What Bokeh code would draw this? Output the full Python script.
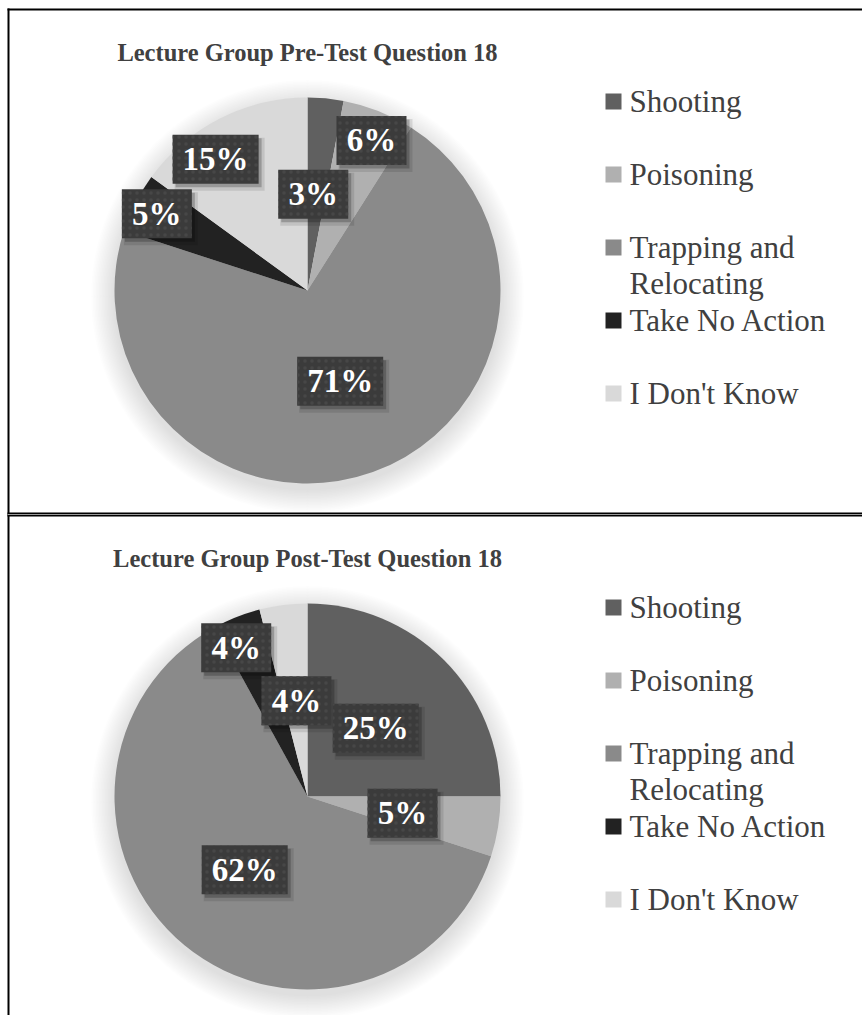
import math

from bokeh.core.properties import value
from bokeh.embed import file_html
from bokeh.models import ColumnDataSource, Range1d
from bokeh.plotting import figure
from bokeh.resources import INLINE

# Survey answers, percent of respondents
categories = ["Shooting", "Poisoning", "Trapping and Relocating", "Take No Action", "I Don't Know"]
pre_test = [3, 6, 71, 5, 15]
post_test = [25, 5, 62, 4, 4]
titles = ["Lecture Group Pre-Test Question 18", "Lecture Group Post-Test Question 18"]
slice_colors = ["#606060", "#b0b0b0", "#8a8a8a", "#222222", "#d9d9d9"]

# Page geometry (pixels, y measured downward from the top edge)
W, H = 862, 1015
PANEL_STEP = 506
CX, CY, R = 307, 290, 193
TITLE_Y = 52
LEGEND_X, LEGEND_Y0, LEGEND_STEP, LINE_STEP = 613, 101, 73, 36

# Data label placement per slice: (fraction of radius, angular nudge in degrees)
label_layout = [
    [(0.50, -2.0), (0.845, 1.5), (0.50, 0.0), (0.876, 0.0), (0.83, -8.0)],
    [(0.50, 0.0), (0.50, 1.0), (0.50, 1.0), (0.855, -4.0), (0.50, 0.6)],
]

SERIF = value("Liberation Serif")


def Y(y):
    return H - y


def wrap(text, limit=15):
    words, lines, cur = text.split(), [], ""
    for w in words:
        trial = (cur + " " + w).strip()
        if len(trial) > limit and cur:
            lines.append(cur)
            cur = w
        else:
            cur = trial
    lines.append(cur)
    return lines


p = figure(
    width=W, height=H,
    x_range=Range1d(0, W), y_range=Range1d(0, H),
    x_axis_location=None, y_axis_location=None,
    toolbar_location=None, output_backend="svg", min_border=0,
)
p.grid.visible = False
p.outline_line_color = None
p.background_fill_color = "white"
p.border_fill_color = "white"

for k, vals in enumerate([pre_test, post_test]):
    off = k * PANEL_STEP
    cx, cy = CX, CY + off
    total = float(sum(vals))

    # soft drop shadow behind the pie
    for i in range(16):
        p.circle(x=cx, y=Y(cy + 6), radius=R + 1 + i * 1.5,
                 fill_color="black", fill_alpha=0.009, line_color=None)

    # slices, clockwise from 12 o'clock
    starts, ends, mids = [], [], []
    c = 0.0
    for v in vals:
        c0, c1 = c / total, (c + v) / total
        starts.append(math.pi / 2 - 2 * math.pi * c1)
        ends.append(math.pi / 2 - 2 * math.pi * c0)
        mids.append((c0 + c1) / 2)
        c += v
    src = ColumnDataSource(dict(x=[cx] * len(vals), y=[Y(cy)] * len(vals),
                                start=starts, end=ends, color=slice_colors))
    p.wedge(x="x", y="y", radius=R, start_angle="start", end_angle="end",
            direction="anticlock", fill_color="color", line_color=None, source=src)

    # data labels in dark boxes
    lx, ly, lw, txt = [], [], [], []
    for v, m, (rf, nudge) in zip(vals, mids, label_layout[k]):
        th = 2 * math.pi * m + math.radians(nudge)
        lx.append(cx + rf * R * math.sin(th))
        ly.append(Y(cy - rf * R * math.cos(th)))
        t = f"{v}%"
        txt.append(t)
        lw.append(22 + 16 * (len(t) - 1) + 32)
    lsrc = ColumnDataSource(dict(x=lx, y=ly, w=lw, t=txt,
                                 xs=[x + 4 for x in lx], ys=[y - 5 for y in ly],
                                 xs2=[x + 3 for x in lx], ys2=[y - 3.5 for y in ly],
                                 w2=[w + 4 for w in lw]))
    p.rect(x="xs", y="ys", width="w2", height=53, fill_color="black",
           fill_alpha=0.10, line_color=None, source=lsrc)
    p.rect(x="xs2", y="ys2", width="w", height=49, fill_color="black",
           fill_alpha=0.22, line_color=None, source=lsrc)
    p.rect(x="x", y="y", width="w", height=49, fill_color="#3b3b3b",
           line_color=None, hatch_pattern="dot", hatch_color="#474747",
           hatch_scale=7, hatch_weight=1.5, source=lsrc)
    p.text(x="x", y="y", text="t", text_font=SERIF, text_font_style="bold",
           text_font_size="33px", text_color="white", text_align="center",
           text_baseline="middle", source=lsrc)

    # title
    p.text(x=[cx], y=[Y(TITLE_Y + off)], text=[titles[k]], text_font=SERIF,
           text_font_style="bold", text_font_size="24.5px", text_color="#404040",
           text_align="center", text_baseline="middle")

    # legend
    sq_y, tx, ty, tt = [], [], [], []
    for i, cat in enumerate(categories):
        row = LEGEND_Y0 + LEGEND_STEP * i + off
        sq_y.append(Y(row))
        for j, line in enumerate(wrap(cat)):
            tx.append(LEGEND_X + 16)
            ty.append(Y(row + LINE_STEP * j))
            tt.append(line)
    p.rect(x=[LEGEND_X] * len(categories), y=sq_y, width=16, height=16,
           fill_color=slice_colors, line_color=None)
    p.text(x=tx, y=ty, text=tt, text_font=SERIF, text_font_size="31px",
           text_color="#404040", text_align="left", text_baseline="middle")

# frame lines
p.line(x=[7, W], y=[Y(9), Y(9)], line_color="black", line_width=2)
p.line(x=[8, 8], y=[Y(8), Y(H)], line_color="black", line_width=2)
p.line(x=[7, W], y=[Y(514), Y(514)], line_color="black", line_width=4)
p.line(x=[7, W], y=[Y(514), Y(514)], line_color="#9a9a9a", line_width=1)

open("out.html", "w").write(file_html(p, INLINE))
